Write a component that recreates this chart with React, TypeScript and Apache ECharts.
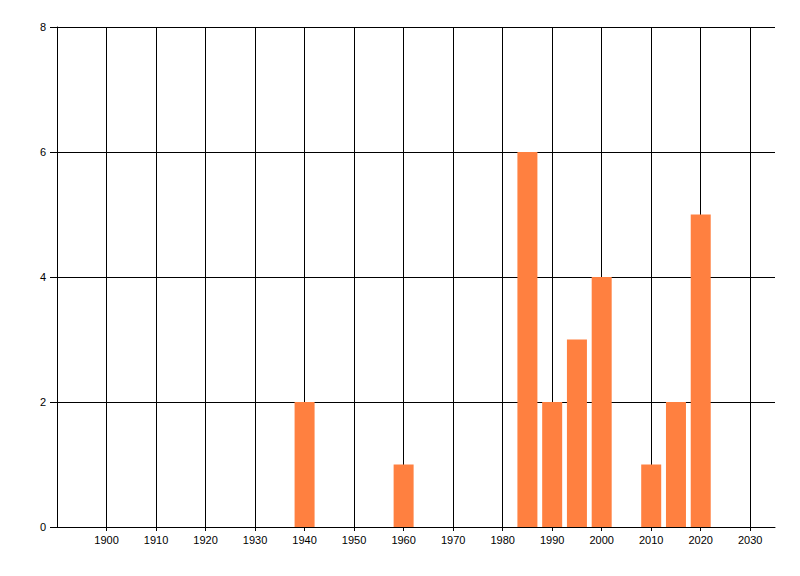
import { useEffect, useRef } from "react";
import * as echarts from "echarts";

// year -> count
const years = [1940, 1960, 1985, 1990, 1995, 2000, 2010, 2015, 2020];
const counts = [2, 1, 6, 2, 3, 4, 1, 2, 5];

const xMin = 1890;
const xMax = 2035;
const yTicks = [0, 2, 4, 6, 8];

export default function App() {
    const containerRef = useRef<HTMLDivElement | null>(null);

    useEffect(() => {
        if (!containerRef.current) return;
        const chart = echarts.init(containerRef.current, null, { renderer: "svg" });

        const font = "Liberation Sans, Arial, sans-serif";

        const option: echarts.EChartsOption = {
            animation: false,
            backgroundColor: "#ffffff",
            grid: { left: 57, right: 25, top: 27, bottom: 49, containLabel: false },
            xAxis: {
                type: "value",
                min: xMin,
                max: xMax,
                interval: 10,
                axisLine: { show: true, lineStyle: { color: "#000", width: 1 } },
                axisTick: { show: true, length: 4, lineStyle: { color: "#000" } },
                axisLabel: {
                    color: "#000",
                    fontSize: 11,
                    fontFamily: font,
                    margin: 7,
                    showMinLabel: false,
                    showMaxLabel: false,
                    formatter: (v: number) => (v > xMin && v % 10 === 0 ? String(v) : ""),
                },
                splitLine: {
                    show: true,
                    showMinLine: false,
                    showMaxLine: false,
                    lineStyle: { color: "#000", width: 1 },
                },
            },
            yAxis: {
                type: "value",
                min: yTicks[0],
                max: yTicks[yTicks.length - 1],
                interval: 2,
                axisLine: { show: true, lineStyle: { color: "#000", width: 1 } },
                axisTick: { show: true, length: 7, lineStyle: { color: "#000" } },
                axisLabel: { color: "#000", fontSize: 11, fontFamily: font, margin: 11 },
                splitLine: { show: true, lineStyle: { color: "#000", width: 1 } },
            },
            series: [
                {
                    type: "bar",
                    barWidth: 20,
                    itemStyle: { color: "#ff8040" },
                    z: 3,
                    data: years.map((y, i) => [y, counts[i]]),
                },
            ],
        };

        chart.setOption(option);
        return () => chart.dispose();
    }, []);

    return (
        <div
            ref={containerRef}
            style={{ position: "fixed", left: 0, top: 0, width: 800, height: 576 }}
        />
    );
}
